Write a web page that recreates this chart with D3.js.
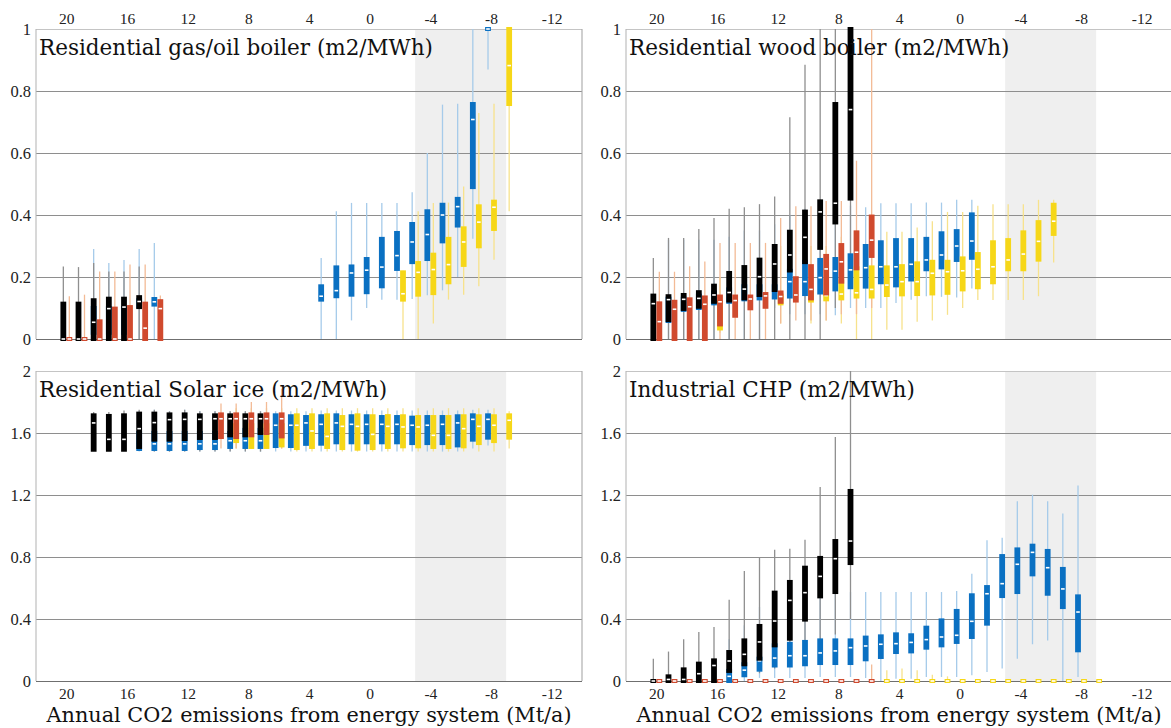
<!DOCTYPE html>
<html>
<head>
<meta charset="utf-8">
<script src="https://cdn.jsdelivr.net/npm/d3@7"></script>
<style>
  html, body { margin: 0; padding: 0; background: #fff; }
  svg { display: block; }
</style>
</head>
<body>
<svg id="chart" width="1171" height="728"></svg>
<script>
// Each row: [annual CO2 emissions (Mt/a), whisker low, Q1, median, Q3, whisker high]

// Residential gas/oil boiler (m2/MWh)
const gasBlack = [
  [20, 0, 0, 0, 0.114, 0.234], [19, 0, 0, 0, 0.114, 0.232], [18, 0, 0, 0.054, 0.125, 0.245],
  [17, 0, 0, 0.098, 0.13, 0.218], [16, 0, 0, 0.103, 0.13, 0.218], [15, 0, 0.103, 0.121, 0.135, 0.234]
];
const gasBlue = [
  [18, 0, 0.02, 0.06, 0.1, 0.29], [17, 0, 0.02, 0.06, 0.1, 0.245], [16, 0, 0.02, 0.06, 0.1, 0.255],
  [15, 0, 0.105, 0.115, 0.125, 0.29], [14, 0, 0.111, 0.12, 0.129, 0.31],
  [3, 0, 0.127, 0.138, 0.17, 0.261], [2, 0, 0.138, 0.156, 0.231, 0.412], [1, 0.06, 0.143, 0.213, 0.234, 0.439],
  [0, 0.1, 0.151, 0.222, 0.258, 0.439], [-1, 0.127, 0.17, 0.232, 0.323, 0.439], [-2, 0.127, 0.226, 0.269, 0.342, 0.439],
  [-3, 0.129, 0.248, 0.313, 0.371, 0.473], [-4, 0.141, 0.258, 0.337, 0.412, 0.6], [-5, 0.157, 0.315, 0.4, 0.433, 0.756],
  [-6, 0.2, 0.366, 0.427, 0.452, 0.759], [-7, 0.323, 0.49, 0.708, 0.758, 1.0], [-8, 0.869, 1.0, 1.0, 1.0, 1.0]
];
const gasRed = [
  [20, 0, 0, 0, 0, 0.138], [19, 0, 0, 0, 0, 0.143], [18, 0, 0, 0, 0.057, 0.218],
  [17, 0, 0, 0, 0.098, 0.218], [16, 0, 0, 0, 0.103, 0.24], [15, 0, 0, 0.035, 0.114, 0.24],
  [14, 0, 0, 0.098, 0.122, 0.14]
];
const gasYellow = [
  [-2, 0, 0.127, 0.146, 0.215, 0.22], [-3, 0, 0.143, 0.215, 0.245, 0.412], [-4, 0.05, 0.148, 0.224, 0.272, 0.439],
  [-5, 0.127, 0.183, 0.24, 0.323, 0.44], [-6, 0.143, 0.239, 0.313, 0.357, 0.492], [-7, 0.17, 0.299, 0.377, 0.428, 0.729],
  [-8, 0.256, 0.355, 0.425, 0.443, 0.759], [-9, 0.412, 0.758, 0.882, 1.0, 1.0]
];

// Residential wood boiler (m2/MWh)
const woodBlack = [
  [20, 0, 0, 0.114, 0.14, 0.261], [19, 0, 0.061, 0.127, 0.138, 0.326], [18, 0, 0.097, 0.128, 0.142, 0.326],
  [17, 0, 0.104, 0.131, 0.151, 0.355], [16, 0, 0.12, 0.142, 0.172, 0.39], [15, 0, 0.124, 0.15, 0.213, 0.42],
  [14, 0, 0.131, 0.161, 0.232, 0.425], [13, 0, 0.142, 0.201, 0.256, 0.435], [12, 0, 0.158, 0.242, 0.3, 0.46],
  [11, 0, 0.221, 0.271, 0.346, 0.715], [10, 0, 0.248, 0.328, 0.411, 0.885], [9, 0, 0.294, 0.41, 0.444, 1.0],
  [8, 0.1, 0.376, 0.438, 0.758, 1.0], [7, 0.2, 0.453, 0.74, 1.0, 1.0]
];
const woodBlue = [
  [19, 0, 0.058, 0.1, 0.13, 0.32], [18, 0, 0.094, 0.12, 0.13, 0.32], [17, 0, 0.1, 0.12, 0.14, 0.32],
  [16, 0, 0.115, 0.13, 0.15, 0.32], [15, 0, 0.12, 0.14, 0.16, 0.33], [14, 0, 0.128, 0.14, 0.17, 0.35],
  [13, 0, 0.131, 0.14, 0.17, 0.35], [12, 0.1, 0.134, 0.155, 0.17, 0.37], [11, 0.08, 0.137, 0.185, 0.22, 0.4],
  [10, 0.08, 0.145, 0.185, 0.249, 0.42], [9, 0.08, 0.15, 0.198, 0.255, 0.43], [8, 0.077, 0.16, 0.219, 0.258, 0.43],
  [7, 0.1, 0.167, 0.223, 0.27, 0.43], [6, 0.1, 0.169, 0.23, 0.3, 0.425], [5, 0.1, 0.183, 0.233, 0.312, 0.438],
  [4, 0.116, 0.173, 0.233, 0.319, 0.438], [3, 0.127, 0.192, 0.241, 0.319, 0.438], [2, 0.138, 0.225, 0.255, 0.323, 0.44],
  [1, 0.136, 0.231, 0.271, 0.341, 0.44], [0, 0.134, 0.255, 0.3, 0.348, 0.449], [-1, 0.163, 0.262, 0.316, 0.402, 0.449]
];
const woodRed = [
  [20, 0, 0, 0.056, 0.115, 0.217], [19, 0, 0, 0.096, 0.12, 0.217], [18, 0, 0, 0.104, 0.128, 0.235],
  [17, 0, 0, 0.112, 0.134, 0.25], [16, 0, 0.047, 0.12, 0.137, 0.31], [15, 0, 0.075, 0.124, 0.137, 0.31],
  [14, 0, 0.099, 0.129, 0.137, 0.31], [13, 0, 0.104, 0.139, 0.145, 0.31], [12, 0.05, 0.12, 0.137, 0.15, 0.39],
  [11, 0.06, 0.124, 0.142, 0.196, 0.428], [10, 0.06, 0.131, 0.16, 0.235, 0.428], [9, 0.06, 0.147, 0.226, 0.268, 0.445],
  [8, 0.08, 0.185, 0.249, 0.303, 0.445], [7, 0.08, 0.228, 0.28, 0.344, 0.575], [6, 0.1, 0.268, 0.319, 0.395, 1.0]
];
const woodYellow = [
  [16, 0.02, 0.034, 0.1, 0.12, 0.2], [12, 0.05, 0.115, 0.13, 0.14, 0.3], [10, 0.05, 0.124, 0.135, 0.15, 0.3],
  [9, 0.06, 0.128, 0.14, 0.15, 0.3], [8, 0.05, 0.131, 0.145, 0.185, 0.33], [7, 0, 0.137, 0.149, 0.228, 0.35],
  [6, 0, 0.137, 0.16, 0.231, 0.35], [5, 0.03, 0.142, 0.174, 0.231, 0.346], [4, 0.03, 0.144, 0.185, 0.235, 0.346],
  [3, 0.056, 0.145, 0.185, 0.244, 0.36], [2, 0.06, 0.147, 0.212, 0.249, 0.38], [1, 0.078, 0.149, 0.217, 0.249, 0.41],
  [0, 0.1, 0.16, 0.22, 0.26, 0.41], [-1, 0.126, 0.167, 0.225, 0.274, 0.43], [-2, 0.126, 0.183, 0.233, 0.312, 0.435],
  [-3, 0.126, 0.225, 0.255, 0.319, 0.435], [-4, 0.126, 0.225, 0.274, 0.344, 0.435], [-5, 0.138, 0.256, 0.315, 0.377, 0.449],
  [-6, 0.247, 0.339, 0.38, 0.433, 0.449]
];

// Residential Solar ice (m2/MWh)
const solarBlack = [
  [18, 1.488, 1.492, 1.665, 1.714, 1.735], [17, 1.488, 1.492, 1.559, 1.71, 1.735], [16, 1.485, 1.492, 1.559, 1.714, 1.745],
  [15, 1.485, 1.51, 1.628, 1.725, 1.75], [14, 1.48, 1.557, 1.667, 1.725, 1.75], [13, 1.48, 1.557, 1.686, 1.72, 1.74],
  [12, 1.48, 1.561, 1.688, 1.72, 1.75], [11, 1.48, 1.568, 1.688, 1.714, 1.74], [10, 1.48, 1.568, 1.692, 1.714, 1.74],
  [9, 1.48, 1.585, 1.692, 1.714, 1.74], [8, 1.48, 1.585, 1.692, 1.714, 1.74], [7, 1.48, 1.6, 1.692, 1.714, 1.74]
];
const solarBlue = [
  [15, 1.48, 1.497, 1.55, 1.6, 1.74], [14, 1.48, 1.497, 1.53, 1.6, 1.75], [13, 1.48, 1.497, 1.53, 1.6, 1.74],
  [12, 1.48, 1.497, 1.53, 1.6, 1.75], [11, 1.48, 1.503, 1.53, 1.6, 1.74], [10, 1.48, 1.503, 1.53, 1.6, 1.74],
  [9, 1.48, 1.51, 1.55, 1.6, 1.74], [8, 1.48, 1.51, 1.55, 1.62, 1.74], [7, 1.48, 1.51, 1.55, 1.62, 1.74],
  [6, 1.48, 1.516, 1.65, 1.714, 1.74], [5, 1.48, 1.516, 1.65, 1.708, 1.74], [4, 1.48, 1.53, 1.665, 1.703, 1.74],
  [3, 1.48, 1.531, 1.656, 1.708, 1.745], [2, 1.48, 1.54, 1.665, 1.714, 1.745], [1, 1.48, 1.54, 1.656, 1.708, 1.745],
  [0, 1.48, 1.54, 1.656, 1.708, 1.745], [-1, 1.48, 1.54, 1.656, 1.703, 1.745], [-2, 1.48, 1.54, 1.656, 1.703, 1.745],
  [-3, 1.48, 1.535, 1.65, 1.699, 1.745], [-4, 1.48, 1.535, 1.65, 1.703, 1.745], [-5, 1.48, 1.535, 1.656, 1.703, 1.745],
  [-6, 1.48, 1.52, 1.665, 1.708, 1.745], [-7, 1.5, 1.557, 1.688, 1.714, 1.75], [-8, 1.52, 1.57, 1.688, 1.714, 1.75]
];
const solarRed = [
  [10, 1.5, 1.574, 1.692, 1.72, 1.79], [9, 1.5, 1.574, 1.692, 1.72, 1.79], [8, 1.5, 1.585, 1.692, 1.72, 1.8],
  [7, 1.5, 1.6, 1.692, 1.72, 1.8], [6, 1.5, 1.578, 1.692, 1.72, 1.886]
];
const solarYellow = [
  [9, 1.5, 1.548, 1.6, 1.65, 1.76], [8, 1.5, 1.51, 1.6, 1.65, 1.76], [7, 1.5, 1.51, 1.6, 1.65, 1.76],
  [6, 1.5, 1.52, 1.6, 1.65, 1.76], [5, 1.48, 1.503, 1.65, 1.714, 1.76], [4, 1.48, 1.51, 1.613, 1.714, 1.76],
  [3, 1.48, 1.51, 1.578, 1.714, 1.76], [2, 1.48, 1.503, 1.643, 1.703, 1.76], [1, 1.48, 1.499, 1.643, 1.714, 1.76],
  [0, 1.48, 1.503, 1.591, 1.708, 1.76], [-1, 1.48, 1.51, 1.643, 1.709, 1.76], [-2, 1.48, 1.514, 1.639, 1.708, 1.76],
  [-3, 1.48, 1.514, 1.639, 1.703, 1.76], [-4, 1.48, 1.51, 1.585, 1.703, 1.76], [-5, 1.48, 1.51, 1.585, 1.703, 1.76],
  [-6, 1.48, 1.514, 1.628, 1.708, 1.76], [-7, 1.48, 1.535, 1.643, 1.708, 1.76], [-8, 1.48, 1.548, 1.65, 1.708, 1.76],
  [-9, 1.5, 1.57, 1.682, 1.714, 1.74]
];

// Industrial CHP (m2/MWh)
const chpBlack = [
  [20, 0, 0, 0, 0, 0.144], [19, 0, 0, 0.01, 0.03, 0.19], [18, 0, 0, 0.01, 0.075, 0.27],
  [17, 0, 0, 0.047, 0.112, 0.316], [16, 0, 0, 0.1, 0.133, 0.348], [15, 0, 0.065, 0.129, 0.187, 0.525],
  [14, 0.03, 0.108, 0.172, 0.262, 0.71], [13, 0.05, 0.144, 0.252, 0.355, 0.796], [12, 0.08, 0.23, 0.387, 0.57, 0.847],
  [11, 0.1, 0.273, 0.52, 0.639, 0.854], [10, 0.15, 0.396, 0.57, 0.731, 0.912], [9, 0.2, 0.546, 0.675, 0.794, 1.252],
  [8, 0.3, 0.574, 0.789, 0.903, 1.574], [7, 0.4, 0.761, 0.903, 1.226, 2.0]
];
const chpBlue = [
  [15, 0, 0, 0.03, 0.065, 0.27], [14, 0, 0.037, 0.07, 0.108, 0.36], [13, 0.02, 0.073, 0.13, 0.144, 0.477],
  [12, 0.02, 0.1, 0.148, 0.23, 0.574], [11, 0.02, 0.1, 0.163, 0.24, 0.574], [10, 0.02, 0.108, 0.163, 0.252, 0.585],
  [9, 0.026, 0.116, 0.181, 0.262, 0.574], [8, 0.026, 0.116, 0.194, 0.262, 0.574], [7, 0.026, 0.116, 0.215, 0.262, 0.574],
  [6, 0.02, 0.14, 0.226, 0.28, 0.574], [5, 0, 0.155, 0.237, 0.288, 0.574], [4, 0.015, 0.187, 0.241, 0.301, 0.574],
  [3, 0.015, 0.191, 0.249, 0.295, 0.574], [2, 0.026, 0.215, 0.267, 0.344, 0.574], [1, 0.026, 0.23, 0.284, 0.391, 0.574],
  [0, 0.026, 0.252, 0.295, 0.452, 0.58], [-1, 0.037, 0.284, 0.385, 0.553, 0.692], [-2, 0.058, 0.37, 0.563, 0.606, 0.908],
  [-3, 0.08, 0.548, 0.628, 0.806, 0.925], [-4, 0.144, 0.574, 0.753, 0.849, 1.159], [-5, 0.237, 0.688, 0.83, 0.873, 1.202],
  [-6, 0.262, 0.563, 0.731, 0.839, 1.159], [-7, 0, 0.477, 0.594, 0.723, 1.08], [-8, 0.026, 0.198, 0.445, 0.546, 1.262]
];
const chpRed = [
  [20, 0, 0, 0, 0, 0], [19, 0, 0, 0, 0, 0], [18, 0, 0, 0, 0, 0], [17, 0, 0, 0, 0, 0], [16, 0, 0, 0, 0, 0],
  [15, 0, 0, 0, 0, 0], [14, 0, 0, 0, 0, 0], [13, 0, 0, 0, 0, 0], [12, 0, 0, 0, 0, 0], [11, 0, 0, 0, 0, 0],
  [10, 0, 0, 0, 0, 0], [9, 0, 0, 0, 0, 0], [8, 0, 0, 0, 0, 0], [7, 0, 0, 0, 0, 0], [6, 0, 0, 0, 0, 0.107]
];
const chpYellow = [
  [5, 0, 0, 0, 0, 0.07], [4, 0, 0, 0, 0, 0.08], [3, 0, 0, 0, 0, 0.07], [2, 0, 0, 0, 0, 0.04], [1, 0, 0, 0, 0, 0.03],
  [0, 0, 0, 0, 0, 0], [-1, 0, 0, 0, 0, 0], [-2, 0, 0, 0, 0, 0], [-3, 0, 0, 0, 0, 0], [-4, 0, 0, 0, 0, 0],
  [-5, 0, 0, 0, 0, 0], [-6, 0, 0, 0, 0, 0], [-7, 0, 0, 0, 0, 0], [-8, 0, 0, 0, 0, 0], [-9, 0, 0, 0, 0, 0]
];

const panelTitles = [
  "Residential gas/oil boiler (m2/MWh)",
  "Residential wood boiler (m2/MWh)",
  "Residential Solar ice (m2/MWh)",
  "Industrial CHP (m2/MWh)"
];
const xTickValues = [20, 16, 12, 8, 4, 0, -4, -8, -12];
const yTicksUpper = [0, 0.2, 0.4, 0.6, 0.8, 1];
const yTicksLower = [0, 0.4, 0.8, 1.2, 1.6, 2];
const xAxisTitle = "Annual CO2 emissions from energy system (Mt/a)";
const shadedBand = [-3, -9];

// ---- layout & style ----
const PW = 546, PH = 310;
const panels = [
  { title: panelTitles[0], left: 36,  top: 29,  yTicks: yTicksUpper, xLabels: "top",
    data: { blue: gasBlue, black: gasBlack, yellow: gasYellow, red: gasRed } },
  { title: panelTitles[1], left: 626, top: 29,  yTicks: yTicksUpper, xLabels: "top",
    data: { blue: woodBlue, black: woodBlack, yellow: woodYellow, red: woodRed } },
  { title: panelTitles[2], left: 36,  top: 371, yTicks: yTicksLower, xLabels: "bottom",
    data: { blue: solarBlue, black: solarBlack, yellow: solarYellow, red: solarRed } },
  { title: panelTitles[3], left: 626, top: 371, yTicks: yTicksLower, xLabels: "bottom",
    data: { blue: chpBlue, black: chpBlack, yellow: chpYellow, red: chpRed } }
];
const seriesStyle = {
  blue:   { fill: "#0a70c2", whisker: "#a6cbea", side: -1 },
  black:  { fill: "#000000", whisker: "#8f8f8f", side: -1 },
  yellow: { fill: "#f6d718", whisker: "#f7e28c", side: 1 },
  red:    { fill: "#d04a2e", whisker: "#f3bb96", side: 1 }
};
const drawOrder = ["blue", "black", "yellow", "red"];
const BOX_W = 5.8, OFFSET = 3, PAD = 2;
const tickFont = "'Liberation Serif', serif";
const titleFont = "'DejaVu Serif', serif";

const svg = d3.select("#chart");

panels.forEach(p => {
  const x = d3.scaleLinear().domain([22, -14]).range([0, PW]);
  const yMax = p.yTicks[p.yTicks.length - 1];
  const y = d3.scaleLinear().domain([0, yMax]).range([PH, 0]);
  const g = svg.append("g").attr("transform", `translate(${p.left},${p.top})`);

  // shaded negative-emission band
  g.append("rect")
    .attr("x", x(shadedBand[0])).attr("y", 0)
    .attr("width", x(shadedBand[1]) - x(shadedBand[0])).attr("height", PH)
    .attr("fill", "#efefef");

  // horizontal gridlines + y labels
  const yAxis = d3.axisLeft(y).tickValues(p.yTicks).tickSize(-PW).tickPadding(5)
    .tickFormat(d => String(d));
  const ya = g.append("g").call(yAxis);
  ya.select(".domain").remove();
  ya.selectAll(".tick line")
    .attr("stroke", d => d === 0 ? "#6f6f6f" : (d === yMax ? "#c4c4c4" : "#8e8e8e"))
    .attr("stroke-width", 1.1);
  ya.selectAll(".tick text")
    .attr("font-family", tickFont).attr("font-size", 16.5).attr("fill", "#222");

  // frame
  g.append("line").attr("x1", 0).attr("x2", 0).attr("y1", 0).attr("y2", PH)
    .attr("stroke", "#b8b8b8").attr("stroke-width", 1.1);
  g.append("line").attr("x1", PW).attr("x2", PW).attr("y1", 0).attr("y2", PH)
    .attr("stroke", "#a8a8a8").attr("stroke-width", 1.1);

  // x labels
  if (p.xLabels === "top") {
    const xa = g.append("g").call(d3.axisTop(x).tickValues(xTickValues).tickSize(0).tickPadding(5)
      .tickFormat(d => String(d)));
    xa.select(".domain").remove();
    xa.selectAll("text").attr("font-family", tickFont).attr("font-size", 15.5).attr("fill", "#222");
  } else {
    const xa = g.append("g").attr("transform", `translate(0,${PH})`)
      .call(d3.axisBottom(x).tickValues(xTickValues).tickSize(0).tickPadding(7)
      .tickFormat(d => String(d)));
    xa.select(".domain").remove();
    xa.selectAll("text").attr("font-family", tickFont).attr("font-size", 15.5).attr("fill", "#222");
    g.append("text")
      .attr("x", PW / 2).attr("y", PH + 41)
      .attr("text-anchor", "middle")
      .attr("font-family", titleFont).attr("font-size", 20.8).attr("fill", "#111")
      .text(xAxisTitle);
  }

  // whiskers
  drawOrder.forEach(key => {
    const st = seriesStyle[key];
    g.append("g").selectAll("line").data(p.data[key]).join("line")
      .attr("x1", d => x(d[0]) + st.side * OFFSET)
      .attr("x2", d => x(d[0]) + st.side * OFFSET)
      .attr("y1", d => y(d[1]))
      .attr("y2", d => y(d[5]))
      .attr("stroke", st.whisker).attr("stroke-width", 1.3);
  });

  // boxes with median dash
  drawOrder.forEach(key => {
    const st = seriesStyle[key];
    const bg = g.append("g").selectAll("g").data(p.data[key]).join("g");
    bg.append("rect")
      .attr("x", d => x(d[0]) + st.side * OFFSET - BOX_W / 2)
      .attr("width", BOX_W)
      .attr("y", d => y(d[4]) - PAD)
      .attr("height", d => y(d[2]) - y(d[4]) + 2 * PAD)
      .attr("fill", st.fill);
    bg.append("rect")
      .attr("x", d => x(d[0]) + st.side * OFFSET - 1.8)
      .attr("width", 3.6)
      .attr("y", d => y(d[3]) - 0.8)
      .attr("height", 1.6)
      .attr("fill", "#fff");
  });

  // panel title
  g.append("text")
    .attr("x", 3).attr("y", 26)
    .attr("font-family", titleFont).attr("font-size", 21.5).attr("fill", "#111")
    .text(p.title);
});
</script>
</body>
</html>
